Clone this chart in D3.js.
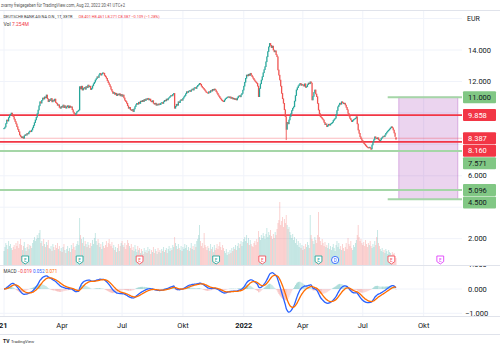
<!DOCTYPE html>
<html><head><meta charset="utf-8">
<script src="https://cdn.jsdelivr.net/npm/d3@7/dist/d3.min.js"></script>
<style>body{margin:0;background:#fff}svg{display:block;font-family:Roboto,"Liberation Sans",sans-serif}</style>
</head><body><svg id="c" width="500" height="350"></svg>
<script>
// ---------------- DATA ----------------
const firstDay = "2021-01-04";
const closes = [
9.02,9.10,9.32,9.55,9.48,9.70,9.85,9.92,9.99,9.88,
9.76,9.60,9.45,9.30,9.12,8.95,8.80,8.59,8.50,8.42,
8.48,8.38,8.55,8.62,8.58,8.70,8.66,8.78,8.85,8.80,
8.91,9.05,9.20,9.38,9.55,9.72,9.95,10.18,10.45,10.71,
10.62,10.80,10.95,10.88,11.02,10.96,11.14,10.90,10.71,10.85,
10.78,10.92,10.70,10.82,10.75,10.88,10.66,10.60,10.48,10.52,
10.35,10.29,10.42,10.36,10.50,10.33,10.45,10.30,10.39,10.46,
10.32,10.44,10.35,10.39,10.20,10.05,9.95,9.87,9.98,10.08,
10.12,10.18,11.67,11.52,11.70,11.45,11.56,11.62,11.50,11.68,
11.60,11.77,11.65,11.70,11.48,11.56,11.72,11.85,11.95,12.09,
12.18,12.30,12.25,12.42,12.52,12.40,12.48,12.55,12.52,12.38,
12.30,12.20,12.05,11.92,11.80,11.67,11.50,11.38,11.24,11.30,
11.18,11.25,11.10,11.20,11.14,11.22,11.08,11.18,11.05,11.14,
10.95,10.80,10.72,10.61,10.45,10.29,10.35,10.20,10.15,10.22,
10.08,10.25,10.40,10.52,10.61,10.55,10.68,10.60,10.75,10.71,
10.80,10.72,10.86,10.78,10.90,10.85,10.93,10.82,10.88,10.75,
10.70,10.78,10.61,10.55,10.62,10.48,10.56,10.50,10.58,10.52,
10.62,10.66,10.60,10.71,10.80,10.76,10.88,10.82,10.93,10.98,
11.05,11.12,11.08,11.18,11.24,10.29,10.42,10.55,10.48,10.71,
10.65,10.78,10.85,10.80,10.93,11.02,11.10,11.22,11.35,11.30,
11.38,11.42,11.36,11.46,11.52,11.45,11.58,11.62,11.55,11.67,
11.75,11.80,11.88,11.82,11.70,11.62,11.56,11.48,11.40,11.32,
11.28,11.24,11.35,11.30,11.42,11.38,11.50,11.44,11.52,11.46,
11.35,11.25,11.14,11.05,10.95,10.88,10.80,10.75,10.71,10.82,
10.90,10.95,11.00,11.03,10.96,11.02,10.92,10.98,10.88,10.93,
10.85,10.90,10.82,10.95,11.05,11.10,11.02,11.15,11.24,11.45,
11.70,11.95,12.20,12.41,12.35,12.46,12.38,12.52,12.40,12.30,
12.20,12.10,12.02,11.95,11.88,11.70,11.03,11.55,11.85,12.09,
12.30,12.55,12.75,12.94,13.25,13.57,13.90,14.20,14.42,14.30,
14.15,14.25,14.00,13.88,13.95,13.70,13.57,12.73,12.40,12.09,
11.70,11.24,10.90,10.61,10.20,9.76,8.95,9.40,9.30,9.55,
9.76,9.95,10.15,10.30,10.39,10.75,11.10,11.46,11.60,11.72,
11.80,11.88,11.75,11.82,11.77,11.70,11.85,11.62,11.67,11.80,
11.90,11.85,11.98,11.90,10.82,11.05,11.30,11.46,11.20,11.03,
10.60,10.18,9.95,9.76,9.70,9.62,9.55,9.40,9.25,9.30,
9.12,9.20,9.28,9.22,9.30,9.34,9.40,9.52,9.60,9.66,
9.90,10.15,10.39,10.50,10.62,10.55,10.71,10.65,10.58,10.62,
10.50,10.35,10.20,9.97,9.80,9.65,9.55,9.44,9.52,9.58,
9.62,9.66,9.76,9.30,8.91,8.70,8.48,8.35,8.25,8.15,
8.06,8.00,7.92,7.85,7.80,7.78,7.82,7.75,7.70,7.96,
8.15,8.30,8.48,8.40,8.35,8.42,8.30,8.22,8.27,8.38,
8.45,8.52,8.48,8.59,8.70,8.78,8.85,8.91,8.98,9.05,
9.12,9.05,8.91,8.72,8.496,8.387];
const volumes = [
14,18,22,20,16,24,19,21,17,15,
18,20,16,22,19,24,17,21,26,20,
15,19,23,17,14,18,21,16,20,19,
17,22,25,28,24,26,30,27,32,35,
22,24,19,26,21,18,23,20,25,17,
16,19,14,21,18,15,20,17,22,16,
19,14,17,13,18,21,15,12,16,19,
14,17,13,20,16,22,18,15,19,21,
24,20,47,30,26,22,28,19,24,21,
18,23,20,17,22,19,25,21,27,32,
24,20,26,22,18,21,16,23,19,17,
20,24,18,22,26,21,19,23,17,20,
15,18,13,17,21,14,19,22,24,20,
18,22,16,20,25,22,19,17,21,15,
18,14,20,16,13,19,15,17,12,16,
14,11,17,13,15,12,18,14,16,11,
15,13,18,12,16,14,11,17,13,15,
12,16,14,18,13,15,17,12,16,19,
14,17,15,20,18,28,22,19,16,21,
17,15,19,14,18,16,21,17,20,15,
18,14,17,22,16,19,15,21,18,24,
26,30,40,24,19,22,17,32,20,18,
15,19,17,14,21,16,18,13,20,15,
17,21,16,19,23,18,15,20,17,14,
12,16,10,13,11,15,12,17,14,18,
16,20,15,19,22,17,21,24,19,23,
26,28,24,30,22,27,20,25,21,19,
18,22,24,20,26,23,34,28,25,30,
27,32,29,26,31,37,28,33,30,35,
29,26,31,27,33,30,36,42,45,63,
40,44,48,38,46,42,50,40,36,38,
33,30,27,31,25,28,22,26,20,24,
18,22,17,20,15,19,16,21,18,23,
20,17,50,30,26,24,21,28,25,22,
30,53,28,24,20,26,22,19,23,18,
20,17,22,16,19,15,18,21,17,14,
20,24,18,22,16,19,15,21,17,14,
18,22,16,27,21,19,24,17,15,20,
18,22,25,30,40,28,24,26,22,20,
23,19,25,21,18,22,20,24,19,17,
21,18,24,20,28,35,22,19,16,14,
17,13,15,12,16,14,11,15,13,12,
10,13,11,12,9,7];
const lastOHLC = [8.401, 8.461, 8.271, 8.387];
const wickLowIdx = [306, 398];
const wickLowVal = [8.27, 7.64];

const priceTicks = [16, 14, 12, 10, 8, 6, 4, 2];
const macdTicks = [1, 0, -1];
const timeTickMonths = ["2021-01","2021-04","2021-07","2021-10","2022-01","2022-04","2022-07","2022-10"];
const timeTickLabels = ["2021","Apr","Jul","Okt","2022","Apr","Jul","Okt"];

const levelPrices = [11.000, 9.858, 8.160, 7.571, 5.096, 4.500];
const levelKinds  = ["green","red","red","green","green","green"];
const levelStarts = ["2022-08-09", null, null, null, null, "2022-08-09"];
const lastPrice = 8.387;

const zoneDates = ["2022-08-25", "2022-11-23"];
const zonePrices = [11.0, 4.5];

const eventDates = ["2021-02-04","2021-04-28","2021-07-28","2021-11-22","2022-01-31","2022-04-26","2022-05-20","2022-08-15","2022-10-27"];
const eventKinds = ["up","up","down","up","down","up","div","down","future"];

const captionText = "zvarny freigegeben für TradingView.com, Aug 22, 2022 20:41 UTC+2";
const symbolText = "DEUTSCHE BANK AG NA O.N., 1T, XETR";
const ohlcText = "O8.401 H8.461 L8.271 C8.387 −0.109 (−1.28%)";
const volText = "7.254M";
const macdLegend = ["−0.019", "0.052", "0.071"];

// ---------------- SETUP ----------------
const svg = d3.select("#c");
const fmt = d3.timeFormat("%Y-%m-%d");
const tradingDays = [];
{ let d = new Date(firstDay + "T12:00:00");
  while (tradingDays.length < 520) { const w = d.getDay(); if (w !== 0 && w !== 6) tradingDays.push(fmt(d)); d.setDate(d.getDate() + 1); } }
const idxOf = s => tradingDays.indexOf(s);

const PL = 0, PR = 462, MT = 10, MB = 265, MACDT = 266, MACDB = 316;
const x = d3.scaleLinear().domain([0, 425]).range([4, 396]);
const y = d3.scaleLinear().domain([14, 2]).range([50, 238.64]);
const yv = d3.scaleLinear().domain([0, 63]).range([265, 202]);
const ym = d3.scaleLinear().domain([0, -1]).range([289, 313.3]);

const UP = "#26a69a", DN = "#ef5350", GRID = "#f0f3fa", TXT = "#131722";

const defs = svg.append("defs");
defs.append("clipPath").attr("id","cm").append("rect").attr("x",PL).attr("y",MT).attr("width",PR-PL).attr("height",MB-MT);
defs.append("clipPath").attr("id","cd").append("rect").attr("x",PL).attr("y",MACDT).attr("width",PR-PL).attr("height",MACDB-MACDT);
defs.append("clipPath").attr("id","cda").append("rect").attr("x",PR).attr("y",MACDT).attr("width",40).attr("height",MACDB-MACDT);
defs.append("clipPath").attr("id","ct").append("rect").attr("x",0).attr("y",MACDB).attr("width",PR).attr("height",20);

svg.append("rect").attr("width",500).attr("height",350).attr("fill","#fff");

// grid
const tickIdx = timeTickMonths.map(m => tradingDays.findIndex(s => s.startsWith(m)));
svg.append("g").selectAll("line").data(tickIdx).join("line")
  .attr("x1", d => x(d)).attr("x2", d => x(d)).attr("y1", MT).attr("y2", MACDB)
  .attr("stroke", GRID).attr("stroke-width", 1);
svg.append("g").attr("clip-path","url(#cm)").selectAll("line").data(priceTicks).join("line")
  .attr("x1", PL).attr("x2", PR).attr("y1", d => y(d)).attr("y2", d => y(d)).attr("stroke", GRID);
svg.append("g").attr("clip-path","url(#cd)").selectAll("line").data(macdTicks).join("line")
  .attr("x1", PL).attr("x2", PR).attr("y1", d => ym(d)).attr("y2", d => ym(d)).attr("stroke", GRID);

// frame lines
const frame = svg.append("g").attr("stroke", "#e0e3eb").attr("stroke-width", 1);
frame.append("line").attr("x1",0).attr("x2",500).attr("y1",MT+0.5).attr("y2",MT+0.5);
frame.append("line").attr("x1",0).attr("x2",500).attr("y1",MB+0.5).attr("y2",MB+0.5);
frame.append("line").attr("x1",0).attr("x2",500).attr("y1",MACDB+0.5).attr("y2",MACDB+0.5);
frame.append("line").attr("x1",0).attr("x2",500).attr("y1",334.5).attr("y2",334.5);

// ---------------- MAIN PANE ----------------
const main = svg.append("g").attr("clip-path","url(#cm)");
const opens = closes.map((c, i) => i === 0 ? c : closes[i-1]);
opens[closes.length-1] = lastOHLC[0];
const bars = closes.map((c, i) => ({i, o: opens[i], c, v: volumes[i]}));

// volume
main.append("g").selectAll("rect").data(bars).join("rect")
  .attr("x", d => x(d.i) - 0.46).attr("width", 0.92)
  .attr("y", d => yv(d.v)).attr("height", d => yv(0) - yv(d.v))
  .attr("fill", d => d.c >= d.o ? "rgba(38,166,154,0.28)" : "rgba(239,83,80,0.28)");

// zone
const zx0 = x(idxOf(zoneDates[0])), zx1 = x(idxOf(zoneDates[1]));
main.append("rect").attr("x", zx0).attr("y", y(zonePrices[0])).attr("width", zx1 - zx0)
  .attr("height", y(zonePrices[1]) - y(zonePrices[0]))
  .attr("fill", "rgba(156,39,176,0.2)").attr("stroke", "rgba(156,39,176,0.3)").attr("stroke-width", 1);

// current price line
main.append("line").attr("x1", PL).attr("x2", PR).attr("y1", y(lastPrice)).attr("y2", y(lastPrice))
  .attr("stroke", "rgba(242,54,69,0.35)").attr("stroke-width", 1);

// level lines
levelPrices.forEach((p, k) => {
  const sx = levelStarts[k] ? x(idxOf(levelStarts[k])) : PL;
  main.append("line").attr("x1", sx).attr("x2", PR).attr("y1", y(p)).attr("y2", y(p))
    .attr("stroke", levelKinds[k] === "red" ? "#f23645" : "#a5d6a7")
    .attr("stroke-width", levelKinds[k] === "red" ? 1.8 : 2);
});

// candles
main.append("g").selectAll("line").data(wickLowIdx).join("line")
  .attr("x1", d => x(d)).attr("x2", d => x(d))
  .attr("y1", d => y(Math.min(opens[d], closes[d]))).attr("y2", (d, k) => y(wickLowVal[k]))
  .attr("stroke", d => closes[d] >= opens[d] ? UP : DN).attr("stroke-width", 0.9);
main.append("line").attr("x1", x(425)).attr("x2", x(425)).attr("y1", y(lastOHLC[1])).attr("y2", y(lastOHLC[2]))
  .attr("stroke", DN).attr("stroke-width", 0.9);
main.append("g").selectAll("rect").data(bars).join("rect")
  .attr("x", d => x(d.i) - 0.65).attr("width", 1.3)
  .attr("y", d => y(Math.max(d.o, d.c)) - 0.3).attr("height", d => Math.max(1.2, Math.abs(y(d.o) - y(d.c)) + 0.6))
  .attr("fill", d => d.c >= d.o ? UP : DN);

// event markers
const evColors = {up: "#26a69a", down: "#f7525f", div: "#2962ff", future: "#e040fb"};
const ev = svg.append("g");
eventDates.forEach((ds, k) => {
  const cx = x(idxOf(ds)), cy = 260;
  const col = evColors[eventKinds[k]];
  const g = ev.append("g").attr("transform", `translate(${cx},${cy})`);
  if (eventKinds[k] === "div") {
    g.append("circle").attr("r", 3.6).attr("fill", "#fff").attr("stroke", col).attr("stroke-width", 0.9);
  } else {
    g.append("path").attr("d", "M-3.4,-4 H3.4 V1.6 L0,4 L-3.4,1.6 Z")
      .attr("fill", "#fff").attr("stroke", col).attr("stroke-width", 0.9);
  }
  g.append("text").attr("y", 1.6).attr("text-anchor", "middle").attr("font-size", 4.5)
    .attr("fill", col).text(eventKinds[k] === "div" ? "D" : "E");
});

// ---------------- MACD ----------------
function ema(arr, n) { const k = 2 / (n + 1); const out = []; let e = arr[0];
  arr.forEach((v, i) => { e = i === 0 ? v : v * k + e * (1 - k); out.push(e); }); return out; }
const e12 = ema(closes, 12), e26 = ema(closes, 26);
const macd = e12.map((v, i) => v - e26[i]);
const signal = ema(macd, 9);
const hist = macd.map((v, i) => v - signal[i]);
const mp = svg.append("g").attr("clip-path", "url(#cd)");
mp.append("g").selectAll("rect").data(hist).join("rect")
  .attr("x", (d, i) => x(i) - 0.46).attr("width", 0.92)
  .attr("y", d => Math.min(ym(d), ym(0))).attr("height", d => Math.abs(ym(d) - ym(0)))
  .attr("fill", (d, i) => d >= 0 ? (i > 0 && d < hist[i-1] ? "rgba(38,166,154,0.25)" : "rgba(38,166,154,0.4)")
                                 : (i > 0 && d > hist[i-1] ? "rgba(239,83,80,0.22)" : "rgba(239,83,80,0.35)"));
const ln = d3.line().x((d, i) => x(i)).y(d => ym(d)).curve(d3.curveMonotoneX);
mp.append("path").attr("d", ln(macd)).attr("fill", "none").attr("stroke", "#2962ff").attr("stroke-width", 1.3);
mp.append("path").attr("d", ln(signal)).attr("fill", "none").attr("stroke", "#ff6d00").attr("stroke-width", 1.3);

// ---------------- AXES ----------------
const labels = levelPrices.map((p, k) => ({p, kind: levelKinds[k]}));
labels.push({p: lastPrice, kind: "red"});
labels.sort((a, b) => b.p - a.p);
let prevY = -1e9;
labels.forEach(l => { let cy = y(l.p); if (cy < prevY + 12.5) cy = prevY + 12.5; l.cy = cy; prevY = cy; });

const pa = svg.append("g").attr("font-size", 7.5).attr("fill", TXT);
priceTicks.forEach(t => {
  const ty = y(t);
  if (ty < 30 || ty > MB - 4) return;
  if (labels.some(l => Math.abs(l.cy - ty) < 9)) return;
  pa.append("text").attr("x", 468).attr("y", ty + 2.7).text(d3.format(".3f")(t));
});
pa.append("text").attr("x", 467).attr("y", 20.5).attr("font-size", 7).text("EUR");
labels.forEach(l => {
  const red = l.kind === "red";
  pa.append("rect").attr("x", 463).attr("y", l.cy - 6).attr("width", 33).attr("height", 12).attr("rx", 1)
    .attr("fill", red ? "#f23645" : "#81c784");
  pa.append("text").attr("x", 468).attr("y", l.cy + 2.7).attr("fill", red ? "#fff" : TXT)
    .text(d3.format(".3f")(l.p));
});
const ma = svg.append("g").attr("clip-path", "url(#cda)").attr("font-size", 7.5).attr("fill", TXT);
macdTicks.forEach(t => ma.append("text").attr("x", t < 0 ? 465 : 468).attr("y", ym(t) + 2.7)
  .text(d3.format(".3f")(t).replace("-", "−")));

// time axis
const ta = svg.append("g").attr("clip-path", "url(#ct)").attr("font-size", 7.5).attr("fill", TXT).attr("text-anchor", "middle");
tickIdx.forEach((ti, k) => {
  ta.append("text").attr("x", x(ti) + (k === 0 ? -5 : 0)).attr("y", 328)
    .attr("font-weight", /^\d{4}$/.test(timeTickLabels[k]) ? "bold" : "normal").text(timeTickLabels[k]);
});

// ---------------- TEXTS ----------------
svg.append("text").attr("x", 1).attr("y", 6.8).attr("font-size", 5).attr("fill", "#555")
  .attr("textLength", 124).attr("lengthAdjust", "spacingAndGlyphs").text(captionText);
svg.append("text").attr("x", 3.5).attr("y", 17.6).attr("font-size", 3.8).attr("fill", "#333")
  .attr("textLength", 69).attr("lengthAdjust", "spacingAndGlyphs").text(symbolText);
svg.append("text").attr("x", 78.5).attr("y", 17.6).attr("font-size", 4.2).attr("fill", "#f23645")
  .attr("textLength", 81).attr("lengthAdjust", "spacingAndGlyphs").text(ohlcText);
const vt = svg.append("text").attr("x", 3.5).attr("y", 25.5).attr("font-size", 5);
vt.append("tspan").attr("fill", "#333").text("Vol ");
vt.append("tspan").attr("fill", "#f23645").text(volText);
const mt = svg.append("text").attr("x", 3.5).attr("y", 273).attr("font-size", 4.6);
mt.append("tspan").attr("fill", "#333").text("MACD ");
mt.append("tspan").attr("fill", "#f23645").text(macdLegend[0] + " ");
mt.append("tspan").attr("fill", "#2962ff").text(macdLegend[1] + " ");
mt.append("tspan").attr("fill", "#ff6d00").text(macdLegend[2]);
svg.append("text").attr("x", 3).attr("y", 343).attr("font-size", 5).attr("font-weight", "bold").attr("fill", TXT).text("TV");
svg.append("text").attr("x", 11).attr("y", 343).attr("font-size", 4.2).attr("fill", "#333").text("TradingView");
</script></body></html>
